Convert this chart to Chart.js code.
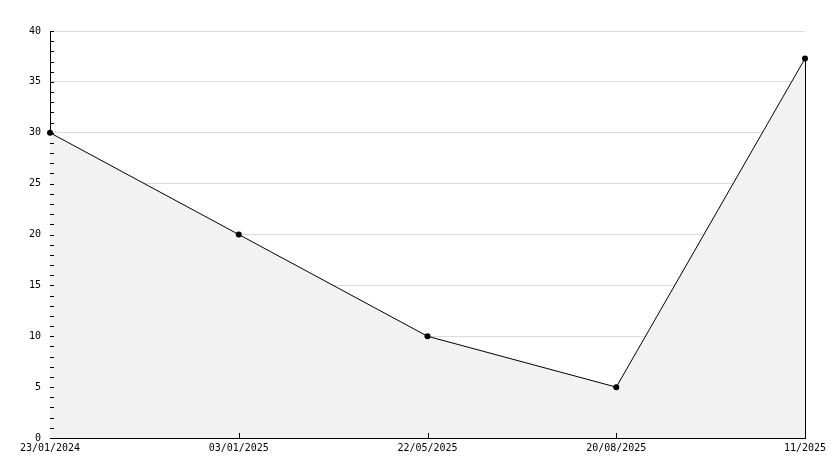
<!DOCTYPE html>
<html>
<head>
<meta charset="utf-8">
<script src="https://cdn.jsdelivr.net/npm/chart.js@4"></script>
<style>
    body { margin: 0; background: #fff; }
    #myChart { display: block; }
</style>
</head>
<body>
<canvas id="myChart" width="834" height="468"></canvas>
<script>
const labels = ["23/01/2024", "03/01/2025", "22/05/2025", "20/08/2025", "11/2025"];
const values = [30, 20, 10, 5, 37.3];
const yMin = 0;
const yMax = 40;
const yMajorStep = 5;

// small inward ticks + closing line on the right edge of the area
const axisTicks = {
    id: 'axisTicks',
    afterDatasetsDraw(chart) {
        var c = chart.ctx;
        var x = chart.scales.x;
        var y = chart.scales.y;
        c.save();
        c.strokeStyle = '#000';
        c.lineWidth = 1;
        c.beginPath();
        for (var v = yMin; v <= yMax; v++) {
            var py = Math.round(y.getPixelForValue(v)) + 0.5;
            c.moveTo(y.right, py);
            c.lineTo(y.right + 4, py);
        }
        for (var i = 1; i < labels.length - 1; i++) {
            var px = Math.round(x.getPixelForValue(i)) + 0.5;
            c.moveTo(px, x.top);
            c.lineTo(px, x.top - 5);
        }
        var meta = chart.getDatasetMeta(0);
        var last = meta.data[meta.data.length - 1];
        var lx = Math.round(last.x) + 0.5;
        c.moveTo(lx, last.y);
        c.lineTo(lx, y.getPixelForValue(yMin));
        c.stroke();
        c.restore();
    }
};

const ctx = document.getElementById('myChart').getContext('2d');

const myChart = new Chart(ctx, {
    type: 'line',
    data: {
        labels: labels,
        datasets: [{
            data: values,
            fill: 'origin',
            backgroundColor: '#f2f2f2',
            borderColor: '#000',
            borderWidth: 1,
            tension: 0,
            pointRadius: 3,
            pointBackgroundColor: '#000',
            pointBorderColor: '#000',
            pointBorderWidth: 0
        }]
    },
    options: {
        responsive: false,
        animation: false,
        layout: {
            padding: { top: 31, right: 29, left: 0, bottom: 0 }
        },
        plugins: {
            legend: { display: false },
            tooltip: { enabled: false }
        },
        scales: {
            x: {
                offset: false,
                afterFit: function (scale) { scale.height = 30; },
                grid: { display: false, drawTicks: false },
                border: { color: '#000', width: 1 },
                ticks: {
                    autoSkip: false,
                    maxRotation: 0,
                    padding: 4,
                    color: '#000',
                    font: { family: 'DejaVu Sans Mono', size: 10 }
                }
            },
            y: {
                min: yMin,
                max: yMax,
                afterFit: function (scale) { scale.width = 50; },
                grid: {
                    drawTicks: false,
                    color: function (c) {
                        if (c.tick && c.tick.value % yMajorStep === 0 && c.tick.value !== yMin) return '#dcdcdc';
                        return 'rgba(0,0,0,0)';
                    }
                },
                border: { color: '#000', width: 1 },
                ticks: {
                    stepSize: 1,
                    autoSkip: false,
                    padding: 9,
                    color: '#000',
                    font: { family: 'DejaVu Sans Mono', size: 10 },
                    callback: function (v) { return v % yMajorStep === 0 ? v : ''; }
                }
            }
        }
    },
    plugins: [axisTicks]
});
</script>
</body>
</html>
